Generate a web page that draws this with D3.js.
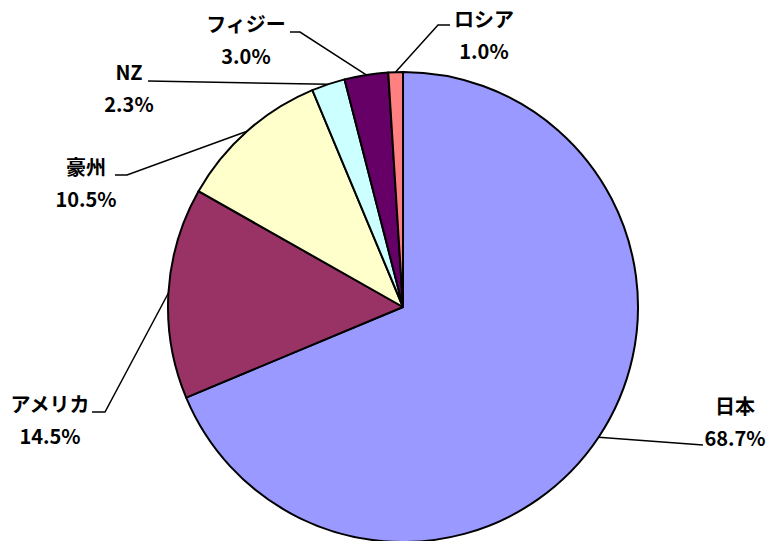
<!DOCTYPE html>
<html>
<head>
<meta charset="utf-8">
<script src="https://cdn.jsdelivr.net/npm/d3@7"></script>
<style>
  body { margin: 0; background: #fff; }
  text { font-family: "Liberation Sans Narrow", "Noto Sans CJK JP", sans-serif; font-weight: bold; fill: #000; }
</style>
</head>
<body>
<div id="chart"></div>
<script>
const categories = ["日本", "アメリカ", "豪州", "NZ", "フィジー", "ロシア"]
const values = [68.7, 14.5, 10.5, 2.3, 3.0, 1.0]
const colors = ["#9999ff", "#993366", "#ffffcc", "#ccffff", "#660066", "#ff8080"]

// label layout: leader bend + end points, and label centre
const labelLayout = [
  { pts: [[703, 445]], text: [735, 407] },
  { pts: [[105, 412], [92, 412]], text: [50, 405] },
  { pts: [[127, 175], [115, 175]], text: [86, 168] },
  { pts: [[148, 81]], text: [129, 73] },
  { pts: [[300, 32], [290, 32]], text: [246, 25] },
  { pts: [[438, 25], [450, 25]], text: [484, 20] }
]

const W = 766, H = 541
const cx = 403, cy = 307, r = 235

const svg = d3.select("#chart").append("svg")
  .attr("width", W)
  .attr("height", H)

const pie = d3.pie().sort(null).value(d => d)
const arcs = pie(values)
const arc = d3.arc().innerRadius(0).outerRadius(r)

const g = svg.append("g").attr("transform", `translate(${cx},${cy})`)

g.selectAll("path")
  .data(arcs)
  .enter()
  .append("path")
  .attr("d", arc)
  .attr("fill", (_d, i) => colors[i])
  .attr("stroke", "#000")
  .attr("stroke-width", 2)
  .attr("stroke-linejoin", "round")

// leader lines from slice middle out to the label
const line = d3.line()
svg.append("g").selectAll("path")
  .data(arcs)
  .enter()
  .append("path")
  .attr("d", (d, i) => {
    const a = (d.startAngle + d.endAngle) / 2
    const p0 = [cx + r * Math.sin(a), cy - r * Math.cos(a)]
    return line([p0, ...labelLayout[i].pts])
  })
  .attr("fill", "none")
  .attr("stroke", "#000")
  .attr("stroke-width", 1.5)

const labels = svg.append("g").selectAll("g")
  .data(arcs)
  .enter()
  .append("g")
  .attr("transform", (_d, i) => `translate(${labelLayout[i].text[0]},${labelLayout[i].text[1]})`)

labels.append("text")
  .attr("text-anchor", "middle")
  .attr("dy", "0.35em")
  .attr("font-size", 20)
  .text((_d, i) => categories[i])

labels.append("text")
  .attr("text-anchor", "middle")
  .attr("y", 32)
  .attr("dy", "0.35em")
  .attr("font-size", 20)
  .text((_d, i) => values[i].toFixed(1) + "%")
</script>
</body>
</html>
